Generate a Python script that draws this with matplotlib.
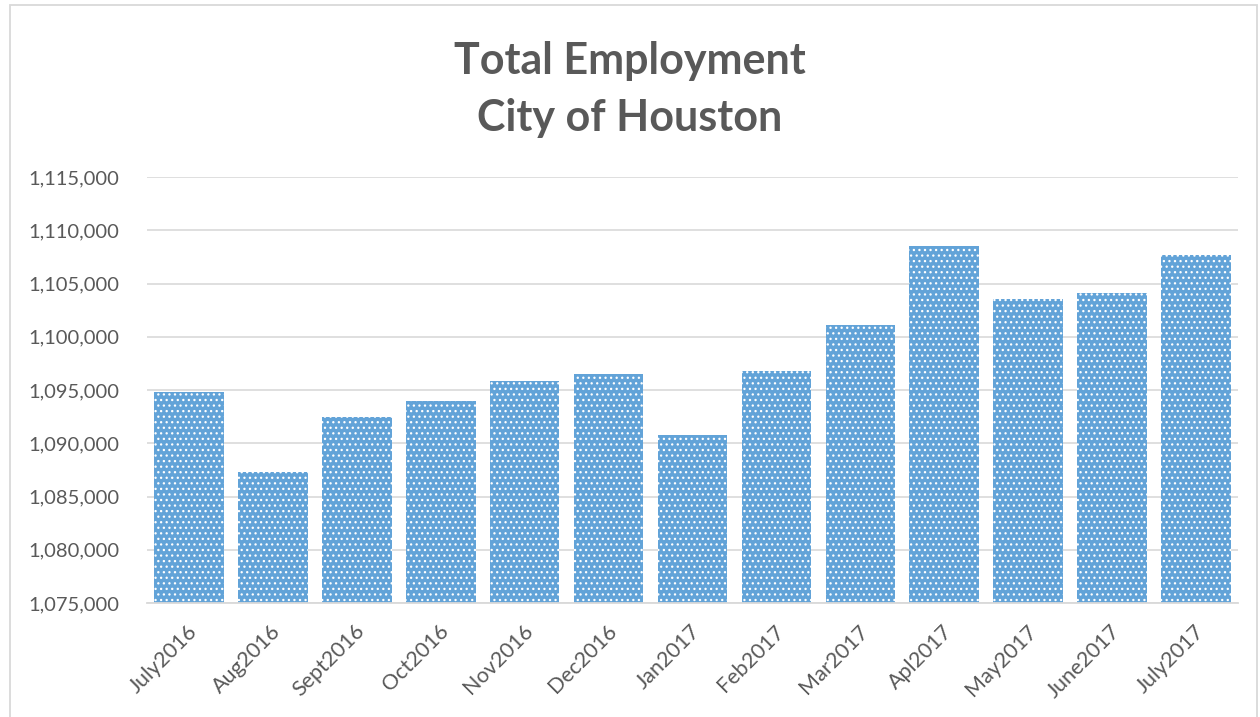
import numpy as np
import matplotlib
matplotlib.use("Agg")
import matplotlib.pyplot as plt
from matplotlib.patches import Rectangle
from matplotlib.ticker import FuncFormatter
from matplotlib.transforms import ScaledTranslation

categories = ["July2016", "Aug2016", "Sept2016", "Oct2016", "Nov2016", "Dec2016",
              "Jan2017", "Feb2017", "Mar2017", "Apl2017", "May2017", "June2017", "July2017"]
employment = [1094800, 1087300, 1092500, 1094000, 1095850, 1096500,
              1090750, 1096780, 1101100, 1108520, 1103550, 1104100, 1107680]
y_ticks = [1075000, 1080000, 1085000, 1090000, 1095000, 1100000, 1105000, 1110000, 1115000]

W, H, DPI = 1260, 717, 100
plt.rcParams["hatch.linewidth"] = 0.9
fig = plt.figure(figsize=(W / DPI, H / DPI), dpi=DPI)
fig.patch.set_facecolor("white")

# outer chart border
fig.patches.append(Rectangle((10 / W, -0.01), (1257 - 10) / W, 1 - 5 / H + 0.01,
                             transform=fig.transFigure, fill=False,
                             edgecolor="#D9D9D9", linewidth=1.3))

left, right, top, bottom = 147, 1238, 177, 603
ax = fig.add_axes([left / W, 1 - bottom / H, (right - left) / W, (bottom - top) / H])

x = np.arange(len(categories))
# Excel pattern fill (blue/white fine checker with white dot lattice)
bars = ax.bar(x, employment, width=0.83, color="#62A3D8", edgecolor="white",
              linewidth=0, hatch="...", zorder=2)

ax.set_ylim(y_ticks[0], y_ticks[-1])
ax.set_xlim(-0.5, len(categories) - 0.5)
ax.set_yticks(y_ticks)
ax.yaxis.set_major_formatter(FuncFormatter(lambda v, p: f"{int(v):,}"))
ax.grid(axis="y", color="#D9D9D9", linewidth=1.2, zorder=0)
ax.set_axisbelow(True)
for s in ["top", "right", "left"]:
    ax.spines[s].set_visible(False)
ax.spines["bottom"].set_color("#D9D9D9")
ax.spines["bottom"].set_linewidth(1.3)

font = "Lato"
ax.tick_params(axis="y", length=0, pad=20, labelsize=14.5, labelcolor="#595959")
ax.tick_params(axis="x", length=0, pad=13, labelsize=15.5, labelcolor="#595959")
for lab in ax.get_yticklabels():
    lab.set_fontfamily(font)
ax.set_xticks(x)
ax.set_xticklabels(categories, rotation=45, ha="right", rotation_mode="anchor",
                   fontfamily=font)
offset = ScaledTranslation(-2 / DPI, 0, fig.dpi_scale_trans)
for lab in ax.get_xticklabels():
    lab.set_transform(lab.get_transform() + offset)

fig.text(0.5, 1 - 61 / H, "Total Employment", ha="center", va="center",
         fontsize=31, fontweight="bold", color="#595959", fontfamily=font)
fig.text(0.5, 1 - 118 / H, "City of Houston", ha="center", va="center",
         fontsize=31, fontweight="bold", color="#595959", fontfamily=font)

fig.savefig("out.png", dpi=DPI)
